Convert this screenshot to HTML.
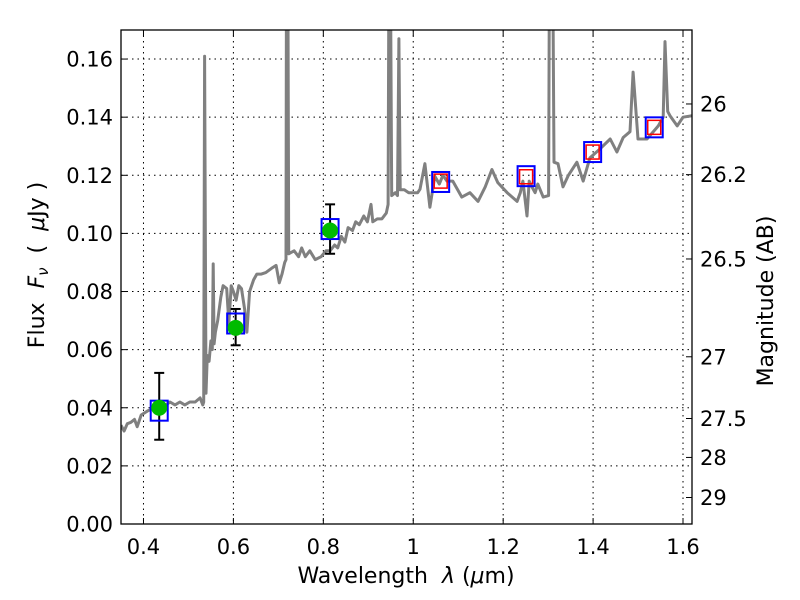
<!DOCTYPE html>
<html><head><meta charset="utf-8"><style>
html,body{margin:0;padding:0;background:#fff;}
svg{display:block;font-family:"DejaVu Sans","Liberation Sans",sans-serif;}
</style></head><body>
<svg id="chart" width="800" height="600" viewBox="0 0 800 600" xmlns="http://www.w3.org/2000/svg">
<rect x="0" y="0" width="800" height="600" fill="#fff"/>
<defs><clipPath id="plotclip"><rect x="121" y="30" width="571" height="494"/></clipPath></defs>
<g id="grid"></g>
<g id="marks" clip-path="url(#plotclip)"></g>
<rect x="121" y="30" width="571" height="494" fill="none" stroke="#000" stroke-width="1.3"/>
<g id="axes"></g>
<text x="406" y="583" font-size="22" text-anchor="middle" xml:space="preserve">Wavelength  <tspan font-style="italic">λ</tspan> (<tspan font-style="italic">μ</tspan>m)</text>
<text transform="translate(44,265) rotate(-90)" font-size="22" text-anchor="middle" xml:space="preserve">Flux  <tspan font-style="italic">F<tspan font-size="15" dy="4">ν</tspan></tspan><tspan dy="-4">  (  </tspan><tspan font-style="italic">μ</tspan>Jy )</text>
<text transform="translate(773,301) rotate(-90)" font-size="22" text-anchor="middle">Magnitude (AB)</text>
</svg>
<script>
const specLam=[0.350,0.357,0.364,0.372,0.380,0.386,0.395,0.410,0.425,0.437,0.450,0.459,0.470,0.481,0.492,0.503,0.515,0.526,0.532,0.534,0.536,0.539,0.542,0.546,0.550,0.553,0.555,0.557,0.560,0.565,0.572,0.577,0.585,0.590,0.595,0.600,0.606,0.612,0.618,0.625,0.630,0.636,0.645,0.652,0.662,0.672,0.685,0.695,0.702,0.708,0.714,0.717,0.718,0.721,0.723,0.735,0.745,0.752,0.760,0.770,0.782,0.795,0.806,0.815,0.825,0.832,0.840,0.848,0.855,0.865,0.872,0.880,0.890,0.898,0.906,0.910,0.920,0.930,0.940,0.944,0.946,0.949,0.952,0.960,0.965,0.968,0.971,0.980,0.990,1.000,1.010,1.015,1.026,1.037,1.048,1.058,1.066,1.075,1.088,1.108,1.126,1.144,1.160,1.175,1.188,1.209,1.231,1.238,1.244,1.253,1.258,1.264,1.271,1.277,1.289,1.301,1.303,1.310,1.313,1.322,1.333,1.345,1.364,1.378,1.393,1.415,1.438,1.453,1.467,1.482,1.489,1.500,1.520,1.545,1.556,1.560,1.566,1.571,1.587,1.600,1.620];
const specFlux=[0.034,0.032,0.0345,0.035,0.036,0.0335,0.0375,0.039,0.040,0.040,0.041,0.042,0.041,0.042,0.041,0.042,0.042,0.0434,0.041,0.042,0.161,0.045,0.058,0.056,0.063,0.060,0.0895,0.062,0.066,0.070,0.078,0.082,0.081,0.069,0.082,0.080,0.077,0.082,0.081,0.074,0.066,0.080,0.084,0.086,0.086,0.0865,0.088,0.089,0.083,0.086,0.090,0.091,0.2,0.2,0.093,0.094,0.092,0.095,0.092,0.094,0.091,0.092,0.094,0.094,0.096,0.095,0.099,0.097,0.102,0.101,0.104,0.103,0.106,0.104,0.110,0.104,0.105,0.105,0.107,0.110,0.2,0.2,0.113,0.114,0.113,0.167,0.115,0.115,0.114,0.114,0.114,0.1152,0.124,0.109,0.1197,0.117,0.120,0.118,0.118,0.1125,0.114,0.111,0.116,0.122,0.1175,0.114,0.111,0.114,0.118,0.106,0.118,0.116,0.114,0.117,0.1125,0.113,0.2,0.2,0.1245,0.124,0.116,0.120,0.1245,0.118,0.126,0.129,0.1325,0.128,0.133,0.135,0.1555,0.1325,0.1325,0.137,0.140,0.166,0.142,0.1405,0.137,0.140,0.1405];
const photLam=[0.435,0.605,0.815];
const photFlux=[0.040,0.0675,0.101];
const photErrLo=[0.029,0.0615,0.093];
const photErrHi=[0.052,0.074,0.110];
const boxLam=[0.435,0.605,0.815,1.061,1.251,1.399,1.536];
const boxFlux=[0.039,0.069,0.1015,0.1177,0.1197,0.128,0.1365];
const modelLam=[1.061,1.251,1.399,1.536];
const modelFlux=[0.118,0.1195,0.128,0.1365];
const xTicks=[0.4,0.6,0.8,1.0,1.2,1.4,1.6];
const xTickLabels=["0.4","0.6","0.8","1","1.2","1.4","1.6"];
const yTicks=[0,0.02,0.04,0.06,0.08,0.10,0.12,0.14,0.16];
const yTickLabels=["0.00","0.02","0.04","0.06","0.08","0.10","0.12","0.14","0.16"];
const magTicks=[26,26.2,26.5,27,27.5,28,29];
const magTickLabels=["26","26.2","26.5","27","27.5","28","29"];

const X0=121,X1=692,Y0=524,Y1=30,XMIN=0.35,XMAX=1.62,YMIN=0,YMAX=0.17;
const sx=v=>X0+(v-XMIN)/(XMAX-XMIN)*(X1-X0);
const sy=v=>Y0-(v-YMIN)/(YMAX-YMIN)*(Y0-Y1);
const NS="http://www.w3.org/2000/svg";
function mk(tag,attrs,parent){const e=document.createElementNS(NS,tag);for(const k in attrs)e.setAttribute(k,attrs[k]);parent.appendChild(e);return e;}
const grid=document.getElementById('grid'),marks=document.getElementById('marks'),axes=document.getElementById('axes');

xTicks.forEach((t,i)=>{
  const x=sx(t);
  const g=mk('line',{x1:x,x2:x,y1:Y1,y2:Y0,stroke:'#000','stroke-width':1,'stroke-dasharray':'1.5,4'},grid);
  
  
  const tk=mk('line',{x1:x,x2:x,y1:Y0,y2:Y0-6,stroke:'#000','stroke-width':1},axes);
  
  
  const tk2=mk('line',{x1:x,x2:x,y1:Y1,y2:Y1+6,stroke:'#000','stroke-width':1},axes);
  
  
  const lb=mk('text',{x:x,y:554,'font-size':21,'text-anchor':'middle'},axes);
  lb.textContent=xTickLabels[i];
  
  
});
yTicks.forEach((t,i)=>{
  const y=sy(t);
  const g=mk('line',{x1:X0,x2:X1,y1:y,y2:y,stroke:'#000','stroke-width':1,'stroke-dasharray':'1.5,4'},grid);
  
  
  const tk=mk('line',{x1:X0,x2:X0+6,y1:y,y2:y,stroke:'#000','stroke-width':1},axes);
  
  
  const lb=mk('text',{x:113,y:y+7.5,'font-size':21,'text-anchor':'end'},axes);
  lb.textContent=yTickLabels[i];
  
  
});
magTicks.forEach((m,i)=>{
  const f=Math.pow(10,(23.9-m)/2.5);
  const y=sy(f);
  const tk=mk('line',{x1:X1,x2:X1-6,y1:y,y2:y,stroke:'#000','stroke-width':1},axes);
  
  
  const lb=mk('text',{x:700,y:y+7.5,'font-size':21,'text-anchor':'start'},axes);
  lb.textContent=magTickLabels[i];
  
  
});

const pts=specLam.map((l,i)=>sx(l).toFixed(1)+','+sy(specFlux[i]).toFixed(1)).join(' ');
const sp=mk('polyline',{points:pts,fill:'none',stroke:'#808080','stroke-width':3,'stroke-linejoin':'round'},marks);



photLam.forEach((l,i)=>{
  const x=sx(l);
  const e=mk('line',{x1:x,x2:x,y1:sy(photErrLo[i]),y2:sy(photErrHi[i]),stroke:'#000','stroke-width':2},marks);
  
  
  [photErrLo[i],photErrHi[i]].forEach(v=>{
    const c=mk('line',{x1:x-5,x2:x+5,y1:sy(v),y2:sy(v),stroke:'#000','stroke-width':2},marks);
    
    
  });
});
boxLam.forEach((l,i)=>{
  const b=mk('rect',{x:sx(l)-8.5,y:sy(boxFlux[i])-10,width:17,height:20,fill:'none',stroke:'#0000ff','stroke-width':2},marks);
  
  
});
modelLam.forEach((l,i)=>{
  const r=mk('rect',{x:sx(l)-6.5,y:sy(modelFlux[i])-7,width:13,height:14,fill:'none',stroke:'#ff0000','stroke-width':1.5},marks);
  
  
});
photLam.forEach((l,i)=>{
  const c=mk('circle',{cx:sx(l),cy:sy(photFlux[i]),r:8,fill:'#00bb00'},marks);
  
  
});
</script>
</body></html>
